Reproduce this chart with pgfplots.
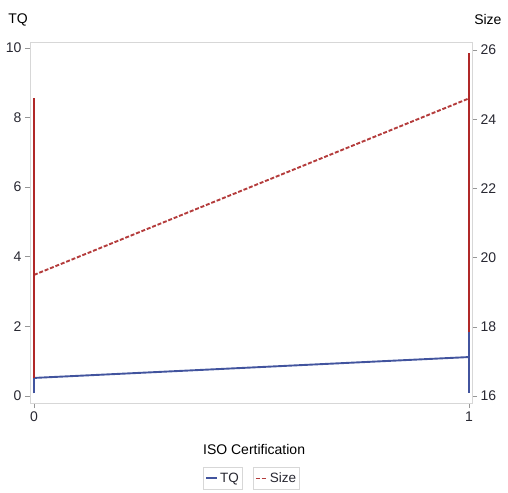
\documentclass[border=0pt]{standalone}
\usepackage{pgfplots}
\pgfplotsset{compat=1.18}
\usepackage{fontspec}
\setmainfont{Liberation Sans}
\definecolor{tqblue}{RGB}{66,84,158}
\definecolor{sizered}{RGB}{176,40,40}
\definecolor{dashred}{RGB}{180,60,60}
\definecolor{framegray}{RGB}{215,215,215}
\definecolor{tickgray}{RGB}{150,150,150}
\definecolor{labgray}{RGB}{40,40,50}
\begin{document}
\begin{tikzpicture}[font=\fontsize{14bp}{16bp}\selectfont]
\pgfplotsset{
 common/.style={
   scale only axis, width=442bp, height=361bp,
   at={(0,0)}, anchor=south west,
   xmin=-0.009, xmax=1.007,
   xtick={0,1},
   tick align=outside,
   major tick length=5bp,
   tick style={tickgray, line width=0.7bp},
   ticklabel style={labgray, font=\fontsize{14bp}{16bp}\selectfont},
   /pgf/number format/assume math mode=true,
   label style={labgray, font=\fontsize{14bp}{16bp}\selectfont},
   legend image code/.code={\draw[##1] (0bp,0bp) -- (11bp,0bp);},
   legend style={draw=framegray, line width=0.9bp, inner xsep=1.5bp, inner ysep=3.5bp, anchor=north,
     font=\fontsize{13.5bp}{16bp}\selectfont, text=labgray},
 }
}
\begin{axis}[common,
  ymin=-0.2, ymax=10.17, ytick={0,2,...,10},
  axis line style={framegray, line width=0.9bp},
  xtick pos=bottom, ytick pos=left,
  xlabel={ISO Certification},
  ylabel={TQ},
  every axis x label/.style={at={(axis description cs:0.507,-0.130)},anchor=center},
  every axis y label/.style={at={(axis description cs:-0.027,1.061)},anchor=center},
  legend style={at={(axis description cs:0.4367,-0.177)}},
]
\addplot[tqblue, line width=1.9bp] coordinates {(0,0.52) (1,1.12)};
\addlegendentry{TQ}
\addplot[tqblue, line width=2.6bp, forget plot] coordinates {(0,0.08) (0,0.9)};
\addplot[tqblue, line width=2.6bp, forget plot] coordinates {(1,0.09) (1,1.9)};
\end{axis}
\begin{axis}[common,
  ymin=15.8, ymax=26.23, ytick={16,18,...,26},
  axis x line=none, axis y line*=right,
  y axis line style={framegray, line width=0.9bp},
  ylabel={Size},
  every axis y label/.style={at={(axis description cs:1.036,1.061)},anchor=center},
  legend style={at={(axis description cs:0.5577,-0.177)}},
]
\addplot[dashred, line width=1.9bp, dash pattern=on 4bp off 1.8bp] coordinates {(0,19.5) (1,24.6)};
\addlegendentry{Size}
\addplot[sizered, line width=2.6bp, forget plot] coordinates {(0,16.52) (0,24.6)};
\addplot[sizered, line width=2.6bp, forget plot] coordinates {(1,17.85) (1,25.9)};
\end{axis}
\path (-30bp,-90bp) rectangle (478bp,403bp);
\end{tikzpicture}
\end{document}
